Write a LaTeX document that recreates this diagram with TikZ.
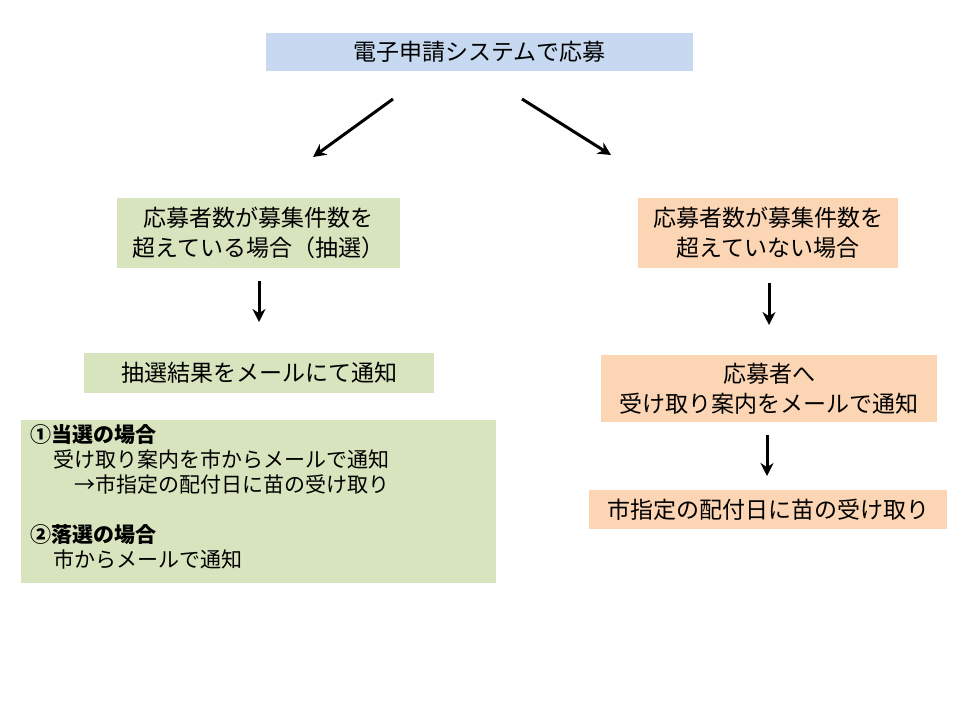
\documentclass[tikz,border=0pt]{standalone}
\usepackage{fontspec}
\usetikzlibrary{arrows.meta}
\setmainfont{Noto Sans CJK JP}
\definecolor{bl}{HTML}{C6D9F1}
\definecolor{gr}{HTML}{D7E4BD}
\definecolor{or}{HTML}{FCD5B5}
\begin{document}
\begin{tikzpicture}[x=1pt,y=-1pt,
 box/.style={draw=none,inner sep=0,align=center,font=\fontsize{23}{30}\selectfont},
 arr/.style={-{Stealth[length=13pt,width=13pt]},line width=3pt}]
\useasboundingbox (0,0) rectangle (960,720);
\fill[bl] (266,33) rectangle (693,71);
\node[box] (top) at (479.5,52) {電子申請システムで応募};
\fill[gr] (117,198) rectangle (400,268);
\node[box] (l1) at (258.5,233) {応募者数が募集件数を\\超えている場合（抽選）};
\fill[or] (638,198) rectangle (898,268);
\node[box] (r1) at (768,233) {応募者数が募集件数を\\超えていない場合};
\fill[gr] (84,353) rectangle (434,393);
\node[box] (l2) at (259,373) {抽選結果をメールにて通知};
\fill[or] (601,355) rectangle (937,422);
\node[box] (r2) at (769,388.5) {応募者へ\\受け取り案内をメールで通知};
\fill[gr] (21,420) rectangle (496,583);
\node[box,anchor=north west,align=left,font=\fontsize{21}{25}\selectfont] (l3) at (30,424)
 {\textbf{①当選の場合}\\
 \hspace*{1.1em}受け取り案内を市からメールで通知\\
 \hspace*{2.1em}→市指定の配付日に苗の受け取り\\[25pt]
 \textbf{②落選の場合}\\
 \hspace*{1.1em}市からメールで通知};
\fill[or] (589,490) rectangle (947,529);
\node[box] (r3) at (768,509.5) {市指定の配付日に苗の受け取り};
\coordinate (a1) at (393,99); \coordinate (b1) at (313,157);
\coordinate (a2) at (522,99); \coordinate (b2) at (611,155);
\coordinate (a3) at (259,281); \coordinate (b3) at (259,322);
\coordinate (a4) at (769,283); \coordinate (b4) at (769,325);
\coordinate (a5) at (767,435); \coordinate (b5) at (767,476);
\foreach \i in {1,...,5} \draw[arr] (a\i) -- (b\i);
\end{tikzpicture}
\end{document}
